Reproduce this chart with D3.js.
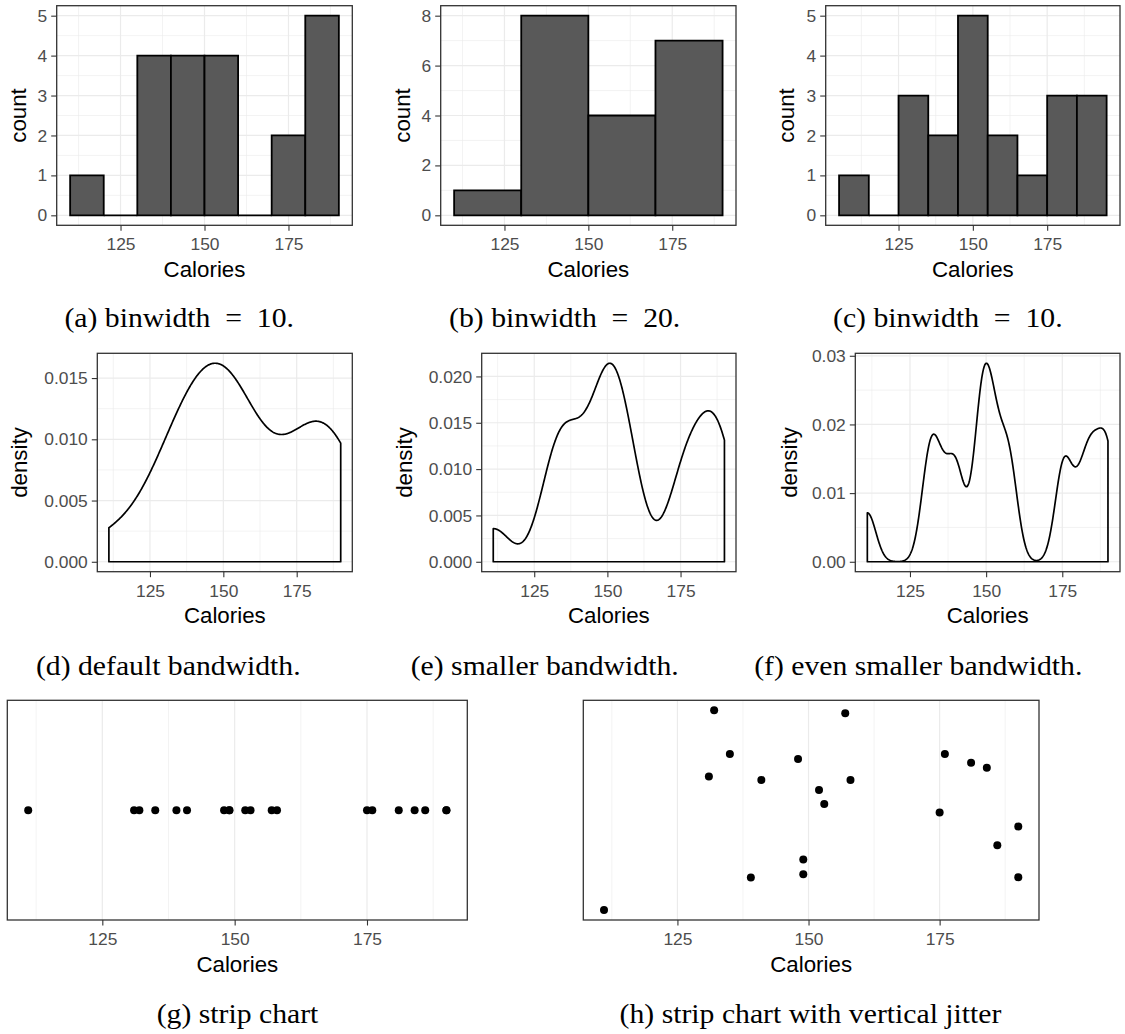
<!DOCTYPE html>
<html>
<head>
<meta charset="utf-8">
<script src="https://cdn.jsdelivr.net/npm/d3@7/dist/d3.min.js"></script>
<style>
body { margin: 0; background: #ffffff; }
svg { display: block; }
</style>
</head>
<body>
<div id="fig"></div>
<script>
// calories of 20 beef hot dogs (sorted)
var calories = [111, 131, 132, 135, 139, 141, 148, 149, 149, 152, 153, 157, 158, 175, 176, 181, 184, 186, 190, 190];
// vertical jitter of panel (h), same order as calories
var jitterY = [0.599, 1.135, 1.401, 1.225, 0.730, 1.121, 1.205, 0.802, 0.743, 1.081, 1.025, 1.389, 1.121, 0.991, 1.225, 1.190, 1.170, 0.859, 0.934, 0.731];
var stripY = 1;

// histogram breaks (bins are right-closed, first one includes its left edge)
var breaksA = [110, 120, 130, 140, 150, 160, 170, 180, 190];
var breaksB = [110, 130, 150, 170, 190];
var breaksC = [105, 115, 125, 135, 145, 155, 165, 175, 185, 195];

// kernel density bandwidth: nrd0 times adjust
var bwAdjust = [1, 0.5, 0.25];

// tick labels
var xTicks = [125, 150, 175];
var countTicksA = [0, 1, 2, 3, 4, 5];
var countTicksB = [0, 2, 4, 6, 8];
var countTicksC = [0, 1, 2, 3, 4, 5];
var densTicksD = [0, 0.005, 0.010, 0.015];
var densTicksE = [0, 0.005, 0.010, 0.015, 0.020];
var densTicksF = [0, 0.01, 0.02, 0.03];

var captions = ["(a) binwidth\u2002=\u200210.", "(b) binwidth\u2002=\u200220.", "(c) binwidth\u2002=\u200210.",
                "(d) default bandwidth.", "(e) smaller bandwidth.", "(f) even smaller bandwidth.",
                "(g) strip chart", "(h) strip chart with vertical jitter"];


var W = 1125, H = 1034;
var svg = d3.select("#fig").append("svg")
            .attr("width", W)
            .attr("height", H)
            .attr("viewBox", "0 0 " + W + " " + H);

var sans = "'Liberation Sans', Arial, Helvetica, sans-serif";
var serif = "'Liberation Serif', 'Times New Roman', serif";
var tickLen = 5.5;

// panel boxes in page pixels
var panels = [
	{l: 56.7,  t: 5.7,   r: 352.3, b: 225.3, titleX: 18.3},
	{l: 440.7, t: 5.7,   r: 736,   b: 225.3, titleX: 402.5},
	{l: 825.7, t: 5.7,   r: 1120,  b: 225.3, titleX: 786.5},
	{l: 97.3,  t: 353.3, r: 352.3, b: 571.7, titleX: 19.2},
	{l: 481.7, t: 353.3, r: 736,   b: 571.7, titleX: 404.2},
	{l: 855.3, t: 353.3, r: 1120,  b: 571.7, titleX: 788.8},
	{l: 7.3,   t: 700.3, r: 467.3, b: 920},
	{l: 583.3, t: 700.3, r: 1039,  b: 920}
];
var captionPos = [[179.2, 327], [564.7, 327], [947.8, 327],
                  [168.3, 675], [544.7, 675], [918.3, 675],
                  [237.5, 1023], [810.5, 1023]];


function expand(lo, hi){
	var d = (hi - lo) * 0.05;
	return [lo - d, hi + d];
}

function minorBreaks(major, domain){
	var step = major[1] - major[0];
	var ext = [major[0] - step].concat(major, [major[major.length - 1] + step]);
	var out = [];
	for (var i = 0; i < ext.length - 1; i++) out.push((ext[i] + ext[i + 1]) / 2);
	return out.filter(function(v){ return v >= domain[0] && v <= domain[1]; });
}

function binCounts(values, breaks){
	var counts = breaks.slice(1).map(function(){ return 0; });
	values.forEach(function(v){
		for (var i = 0; i < counts.length; i++) {
			if ((v > breaks[i] || (i === 0 && v >= breaks[0])) && v <= breaks[i + 1]) { counts[i]++; break; }
		}
	});
	return counts.map(function(c, i){ return {x0: breaks[i], x1: breaks[i + 1], n: c}; });
}

function nrd0(values){
	var s = d3.deviation(values);
	var iqr = d3.quantile(values, 0.75) - d3.quantile(values, 0.25);
	return 0.9 * Math.min(s, iqr / 1.34) * Math.pow(values.length, -0.2);
}

function kde(values, bw){
	var lo = d3.min(values), hi = d3.max(values), n = 512;
	return d3.range(n).map(function(i){
		var x = lo + (hi - lo) * i / (n - 1);
		var d = d3.mean(values, function(v){
			var u = (x - v) / bw;
			return Math.exp(-0.5 * u * u) / Math.sqrt(2 * Math.PI);
		}) / bw;
		return [x, d];
	});
}

function drawGrid(g, p, x, y, yMajor){
	var xs = x.domain();
	g.selectAll(null).data(minorBreaks(xTicks, xs)).enter().append("line")
		.attr("x1", function(d){ return x(d); }).attr("x2", function(d){ return x(d); })
		.attr("y1", p.t).attr("y2", p.b)
		.attr("stroke", "#ebebeb").attr("stroke-width", 0.6);
	if (yMajor) {
		g.selectAll(null).data(minorBreaks(yMajor, y.domain())).enter().append("line")
			.attr("x1", p.l).attr("x2", p.r)
			.attr("y1", function(d){ return y(d); }).attr("y2", function(d){ return y(d); })
			.attr("stroke", "#ebebeb").attr("stroke-width", 0.6);
		g.selectAll(null).data(yMajor).enter().append("line")
			.attr("x1", p.l).attr("x2", p.r)
			.attr("y1", function(d){ return y(d); }).attr("y2", function(d){ return y(d); })
			.attr("stroke", "#ebebeb").attr("stroke-width", 1.2);
	}
	g.selectAll(null).data(xTicks).enter().append("line")
		.attr("x1", function(d){ return x(d); }).attr("x2", function(d){ return x(d); })
		.attr("y1", p.t).attr("y2", p.b)
		.attr("stroke", "#ebebeb").attr("stroke-width", 1.2);
}

function drawAxes(g, p, x, y, yMajor, yFmt, yTitle){
	var xAxis = d3.axisBottom(x).tickValues(xTicks).tickSize(tickLen).tickPadding(7);
	var gx = g.append("g").attr("transform", "translate(0," + p.b + ")").call(xAxis);
	gx.select(".domain").remove();
	gx.selectAll(".tick line").attr("stroke", "#333333").attr("stroke-width", 1.1);
	gx.selectAll(".tick text").attr("fill", "#4d4d4d").style("font-family", sans).style("font-size", "17.4px");

	g.append("text")
		.attr("x", (p.l + p.r) / 2)
		.attr("y", p.b + 51.5)
		.attr("text-anchor", "middle")
		.style("font-family", sans).style("font-size", "22.3px")
		.attr("fill", "#000000")
		.text("Calories");

	if (yMajor) {
		var yAxis = d3.axisLeft(y).tickValues(yMajor).tickSize(tickLen).tickPadding(4)
					.tickFormat(yFmt ? d3.format(yFmt) : d3.format("d"));
		var gy = g.append("g").attr("transform", "translate(" + p.l + ",0)").call(yAxis);
		gy.select(".domain").remove();
		gy.selectAll(".tick line").attr("stroke", "#333333").attr("stroke-width", 1.1);
		gy.selectAll(".tick text").attr("fill", "#4d4d4d").style("font-family", sans).style("font-size", "17.4px");

		g.append("text")
			.attr("transform", "translate(" + p.titleX + "," + ((p.t + p.b) / 2) + ") rotate(-90)")
			.attr("dy", "0.35em")
			.attr("text-anchor", "middle")
			.style("font-family", sans).style("font-size", "22.3px")
			.attr("fill", "#000000")
			.text(yTitle);
	}
}

function drawBorder(g, p){
	g.append("rect")
		.attr("x", p.l).attr("y", p.t)
		.attr("width", p.r - p.l).attr("height", p.b - p.t)
		.attr("fill", "none")
		.attr("stroke", "#333333")
		.attr("stroke-width", 1.3);
}

function drawHistogram(p, breaks, yMajor){
	var g = svg.append("g");
	var bins = binCounts(calories, breaks);
	var x = d3.scaleLinear().domain(expand(breaks[0], breaks[breaks.length - 1])).range([p.l, p.r]);
	var y = d3.scaleLinear().domain(expand(0, d3.max(bins, function(d){ return d.n; }))).range([p.b, p.t]);
	drawGrid(g, p, x, y, yMajor);
	g.selectAll(null).data(bins).enter().append("path")
		.attr("d", function(d){
			return "M" + x(d.x0) + "," + y(0) + "H" + x(d.x1) + "V" + y(d.n) + "H" + x(d.x0) + "Z";
		})
		.attr("fill", "#595959")
		.attr("stroke", "#000000")
		.attr("stroke-width", 1.8)
		.attr("stroke-linejoin", "miter");
	drawBorder(g, p);
	drawAxes(g, p, x, y, yMajor, null, "count");
}

function drawDensity(p, adjust, yMajor, fmt){
	var g = svg.append("g");
	var curve = kde(calories, nrd0(calories) * adjust);
	var x = d3.scaleLinear().domain(expand(d3.min(calories), d3.max(calories))).range([p.l, p.r]);
	var y = d3.scaleLinear().domain(expand(0, d3.max(curve, function(d){ return d[1]; }))).range([p.b, p.t]);
	drawGrid(g, p, x, y, yMajor);
	var pts = [[curve[0][0], 0]].concat(curve, [[curve[curve.length - 1][0], 0]]);
	var line = d3.line().x(function(d){ return x(d[0]); }).y(function(d){ return y(d[1]); });
	g.append("path")
		.attr("d", line(pts) + "Z")
		.attr("fill", "none")
		.attr("stroke", "#000000")
		.attr("stroke-width", 1.7)
		.attr("stroke-linejoin", "round");
	drawBorder(g, p);
	drawAxes(g, p, x, y, yMajor, fmt, "density");
}

function drawStrip(p, ys){
	var g = svg.append("g");
	var x = d3.scaleLinear().domain(expand(d3.min(calories), d3.max(calories))).range([p.l, p.r]);
	var yDom = ys ? expand(d3.min(ys), d3.max(ys)) : [stripY - 1, stripY + 1];
	var y = d3.scaleLinear().domain(yDom).range([p.b, p.t]);
	drawGrid(g, p, x, y, null);
	g.selectAll(null).data(calories).enter().append("circle")
		.attr("cx", function(d){ return x(d); })
		.attr("cy", function(d, i){ return y(ys ? ys[i] : stripY); })
		.attr("r", 4)
		.attr("fill", "#000000");
	drawBorder(g, p);
	drawAxes(g, p, x, y, null, null, null);
}

function drawCaption(i){
	svg.append("text")
		.attr("transform", "translate(" + captionPos[i][0] + "," + captionPos[i][1] + ") scale(1.1,1)")
		.attr("text-anchor", "middle")
		.style("font-family", serif)
		.style("font-size", "27px")
		.attr("fill", "#000000")
		.text(captions[i]);
}


drawHistogram(panels[0], breaksA, countTicksA);
drawHistogram(panels[1], breaksB, countTicksB);
drawHistogram(panels[2], breaksC, countTicksC);

drawDensity(panels[3], bwAdjust[0], densTicksD, ".3f");
drawDensity(panels[4], bwAdjust[1], densTicksE, ".3f");
drawDensity(panels[5], bwAdjust[2], densTicksF, ".2f");

drawStrip(panels[6], null);
drawStrip(panels[7], jitterY);

for (var i = 0; i < captions.length; i++) drawCaption(i);
</script>
</body>
</html>
